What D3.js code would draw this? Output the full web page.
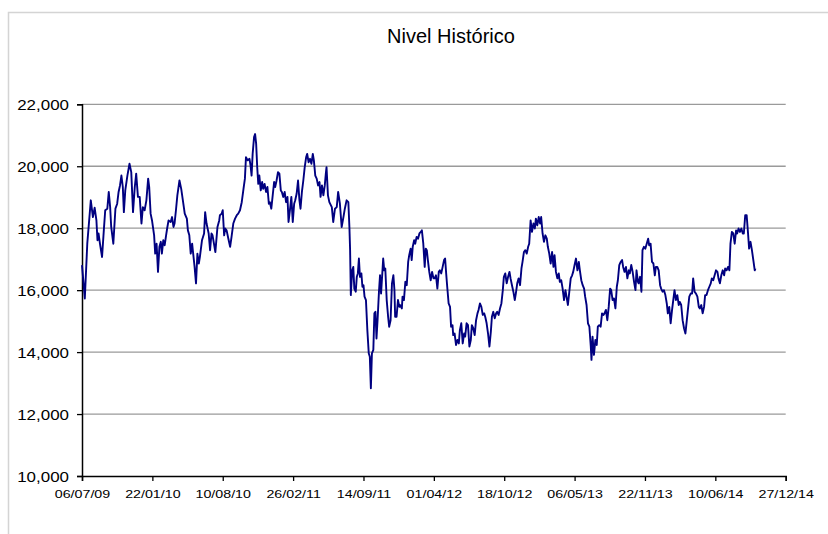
<!DOCTYPE html>
<html><head><meta charset="utf-8">
<script src="https://cdn.jsdelivr.net/npm/d3@7"></script>
<style>html,body{margin:0;padding:0;background:#fff;}svg{display:block;}</style>
</head><body>
<svg id="chart" width="828" height="534"></svg>
<script>
const chartTitle = "Nivel Histórico";
const startDate = "06/07/09";
const xTickLabels = ["06/07/09","22/01/10","10/08/10","26/02/11","14/09/11","01/04/12","18/10/12","06/05/13","22/11/13","10/06/14","27/12/14"];
const yTicks = [10000,12000,14000,16000,18000,20000,22000];
// [days since 06/07/09, level]
const series2009_2010 = [[0,16810],[8,15730],[15,17500],[25,18900],[31,18360],[36,18660],[41,18250],[44,17610],[47,17830],[51,17500],[57,17070],[62,17930],[66,18580],[72,18630],[76,19170],[80,18680],[83,18040],[89,17500],[95,18630],[100,18790],[104,19170],[108,19380],[112,19700],[116,19330],[119,18520],[123,19220],[129,19700],[135,20080],[140,19810],[145,18520],[150,19330],[154,19760],[159,19010],[164,19010],[169,18150],[173,18680],[178,18580],[183,18900],[188,19600],[191,19330],[195,18470],[199,18250],[205,17770],[208,17180],[212,17500],[216,16590],[220,17400],[224,17560],[227,17180],[231,17610],[235,17450],[239,17770],[242,17990],[246,18250],[252,18200],[256,18360],[260,18040],[263,18150],[267,18580],[271,19060],[277,19540],[282,19270],[288,18790],[292,18470],[298,18310],[301,17930],[305,17770],[309,17180],[313,17500],[316,17180],[320,16750],[324,16220],[328,17180],[332,16860],[335,17070],[341,17610],[347,17830],[350,18520],[354,18150],[360,17830],[364,17290],[368,17830],[371,17770],[375,17500],[379,17230],[385,18040],[390,18250]];
const series2010_2011 = [[392,18420],[397,18470],[400,18580],[404,17770],[407,17990],[411,17930],[416,17660],[421,17400],[425,17720],[430,18150],[435,18310],[440,18420],[444,18470],[449,18580],[454,18840],[459,19270],[463,19600],[466,20290],[471,20190],[476,20240],[479,20030],[482,19700],[485,20400],[489,20940],[492,21040],[495,20720],[498,19970],[501,19430],[504,19700],[508,19220],[512,19490],[515,19270],[519,19430],[523,19170],[527,19330],[531,18790],[534,18840],[538,18630],[542,19060],[546,19490],[549,19330],[553,19540],[557,19810],[561,19760],[565,19220],[568,19170],[572,19010],[576,19170],[580,18840],[584,19010],[587,18200],[591,18580],[595,19010],[599,18200],[603,18790],[606,18900],[610,19110],[614,19540],[618,18900],[621,18630],[625,19170],[629,19540],[633,19970],[637,20290],[640,20400],[644,20130],[648,20240],[652,20080],[656,20400],[659,20190],[663,19700],[667,19600],[671,19380],[675,19490],[678,19010],[682,19380],[686,19060],[690,19380],[693,19760],[695,19970],[699,19060],[703,18840]];
const series2011_2012 = [[710,18680],[714,18200],[719,18630],[724,18680],[728,19170],[733,18790],[738,18040],[743,18360],[747,18630],[752,18900],[757,18840],[760,18040],[762,17290],[764,15840],[768,16640],[771,16750],[774,16050],[778,15950],[781,16430],[784,16540],[787,17020],[790,16430],[794,16540],[797,16110],[800,16160],[803,15790],[807,15680],[811,14710],[815,13960],[818,13850],[821,12830],[824,13960],[828,14070],[831,15250],[834,15300],[837,14440],[840,15030],[844,15950],[847,16480],[850,15890],[854,16640],[856,17020],[859,16640],[862,16700],[866,15680],[870,15140],[873,14820],[877,15030],[881,16220],[885,16480],[888,16000],[890,15140],[894,15140],[898,15680],[902,15460]];
const series2012_2013 = [[904,15520],[909,15410],[911,15790],[915,15680],[919,16270],[923,16160],[927,16910],[930,17130],[934,17340],[937,16970],[940,17400],[944,17610],[947,17500],[951,17720],[955,17660],[959,17830],[963,17880],[966,17930],[970,17500],[974,16750],[977,17340],[980,17290],[983,16970],[987,16590],[991,16320],[995,16590],[999,16380],[1002,16380],[1006,16480],[1010,16050],[1014,16590],[1017,16640],[1021,16540],[1025,16750],[1029,16970],[1032,17020],[1035,16540],[1038,16110],[1042,15570],[1046,15460],[1049,14820],[1053,14870],[1055,14550],[1059,14600],[1063,14230],[1067,14390],[1071,14280],[1074,14710],[1078,14930],[1082,14280],[1086,14600],[1089,14500],[1093,14930],[1097,14870],[1101,14180],[1105,14390],[1108,14870],[1112,14770],[1116,14550],[1120,15030],[1124,15250],[1127,15360],[1131,15570],[1135,15460],[1139,15200],[1143,15250],[1146,15140],[1150,14930],[1154,14600],[1158,14180],[1162,14660],[1165,15140],[1169,15300],[1173,15090],[1177,15250],[1180,15300],[1184,15200],[1188,15410],[1192,15570],[1196,16000],[1199,16430],[1203,16540],[1207,16220],[1211,16430],[1215,16590],[1218,16380],[1222,16160],[1226,15950],[1230,15680],[1233,15890],[1237,16220],[1241,16380]];
const series2013 = [[1245,16160],[1249,16700],[1252,16910],[1256,17230],[1260,17290],[1264,17180],[1268,17400],[1271,17500],[1275,18250],[1279,17880],[1283,18150],[1287,17990],[1290,18310],[1294,18090],[1298,18360],[1302,18150],[1305,18360],[1309,17830],[1313,17560],[1317,17770],[1321,17660],[1324,17400],[1328,17180],[1332,16860],[1336,17230],[1340,16750],[1343,17130],[1347,16590],[1351,16380],[1355,16540],[1358,16270],[1362,16320],[1366,16050],[1370,15680],[1374,16000],[1377,15790],[1381,15520],[1385,15950],[1389,16380],[1393,16480],[1396,16590],[1400,16810],[1404,17020],[1408,16640],[1412,16910],[1415,16640],[1419,16320],[1423,16160],[1427,16050],[1430,15790],[1434,15520],[1438,14930],[1442,14820],[1446,14180],[1448,13750],[1451,14500],[1455,13910],[1459,14390],[1463,14230],[1466,14820],[1470,14870],[1474,14820],[1478,15250],[1482,15200],[1485,15250],[1489,15360],[1493,15030],[1497,15460],[1501,16050],[1504,16000],[1508,15680],[1512,15730],[1516,15410],[1520,16110],[1523,16320],[1527,16810],[1531,16910],[1535,16970],[1538,16750],[1542,16590],[1546,16750],[1550,16380],[1554,16640],[1557,16540],[1561,16810],[1565,16590],[1569,16270],[1573,16000],[1576,16640],[1580,16270],[1582,16220]];
const series2013_2014 = [[1586,16430],[1590,15950],[1593,17290],[1597,17400],[1601,17340],[1605,17500],[1609,17660],[1612,17450],[1616,17500],[1620,16910],[1624,16860],[1628,16480],[1631,16750],[1635,16750],[1639,16640],[1643,16160],[1646,16050],[1650,15950],[1654,16000],[1658,15840],[1662,15570],[1665,15250],[1669,15460],[1673,14930],[1677,15360],[1681,15730],[1684,16000],[1688,15680],[1692,15840],[1696,15520],[1699,15620],[1703,15520],[1707,15030],[1711,14770],[1715,14600],[1718,14930],[1722,15360],[1726,15790],[1730,15890],[1734,15890],[1737,16380],[1741,15950],[1745,15890],[1749,15790],[1753,15460],[1756,15410],[1760,15520],[1764,15250],[1768,15460],[1771,15840],[1775,15840],[1779,16000],[1783,16110],[1787,16220],[1790,16380],[1794,16320],[1798,16480],[1802,16640],[1806,16590],[1809,16380],[1813,16220],[1817,16480],[1821,16640],[1825,16480],[1828,16700],[1832,16640],[1836,16750],[1840,16640],[1843,17500],[1847,17880],[1851,17830],[1855,17500],[1859,17930],[1862,17830],[1866,17990],[1870,17880],[1874,17990],[1878,17830],[1881,17830],[1885,18420],[1889,18420],[1893,17830],[1896,17340],[1900,17560],[1904,17290],[1908,16970],[1912,16640],[1914,16700]];

const parse = d3.timeParse("%d/%m/%y");
const t0 = parse(startDate);
const data = [].concat(series2009_2010, series2010_2011, series2011_2012, series2012_2013, series2013, series2013_2014)
  .map(([d, v]) => ({date: d3.timeDay.offset(t0, d), value: v}));
const tickDates = xTickLabels.map(parse);

const svg = d3.select("#chart");
const M = {left: 82, right: 785.7, top: 104.3, bottom: 476};

// chart frame
svg.append("path").attr("d", "M8.5,534V12.5H828").attr("fill", "none")
  .attr("stroke", "#d4d4d4").attr("stroke-width", 1.5);

const x = d3.scaleTime().domain([tickDates[0], tickDates[tickDates.length - 1]]).range([M.left, M.right]);
const y = d3.scaleLinear().domain([10000, 22000]).range([M.bottom, M.top]);

// gridlines
svg.append("g").selectAll("line").data(yTicks.slice(1)).join("line")
  .attr("x1", M.left).attr("x2", M.right)
  .attr("y1", d => y(d)).attr("y2", d => y(d))
  .attr("stroke", "#9a9a9a").attr("stroke-width", 1.3);

// y axis
const yAxis = svg.append("g").attr("transform", `translate(${M.left},0)`)
  .call(d3.axisLeft(y).tickValues(yTicks).tickFormat(d3.format(",")).tickSize(5).tickPadding(0));
yAxis.select(".domain").attr("stroke", "#000").attr("stroke-width", 1.5);
yAxis.selectAll(".tick line").attr("stroke", "#000").attr("stroke-width", 1.3);
yAxis.selectAll(".tick text").attr("font-family", "'Liberation Sans', Arial, sans-serif")
  .attr("font-size", 15).attr("fill", "#000").attr("x", 0).attr("dy", "0.35em")
  .attr("transform", "translate(-13,0) scale(1.13,1)");

// x axis
const xAxis = svg.append("g").attr("transform", `translate(0,${M.bottom})`)
  .call(d3.axisBottom(x).tickValues(tickDates).tickFormat((d, i) => xTickLabels[i]).tickSize(5).tickPadding(0));
xAxis.select(".domain").attr("stroke", "#000").attr("stroke-width", 1.5);
xAxis.selectAll(".tick line").attr("stroke", "#000").attr("stroke-width", 1.3);
xAxis.selectAll(".tick text").attr("font-family", "'Liberation Sans', Arial, sans-serif")
  .attr("font-size", 11.5).attr("fill", "#000").attr("y", 0).attr("dy", 0)
  .attr("transform", "translate(0,22) scale(1.24,1)");

// series line
svg.append("path").datum(data)
  .attr("fill", "none").attr("stroke", "#000080").attr("stroke-width", 1.9)
  .attr("stroke-linejoin", "round")
  .attr("d", d3.line().x(d => x(d.date)).y(d => y(d.value)));

// title
svg.append("text").attr("x", 451).attr("y", 43).attr("text-anchor", "middle")
  .attr("font-family", "'Liberation Sans', Arial, sans-serif").attr("font-size", 20)
  .attr("fill", "#000").text(chartTitle);
</script>
</body></html>
